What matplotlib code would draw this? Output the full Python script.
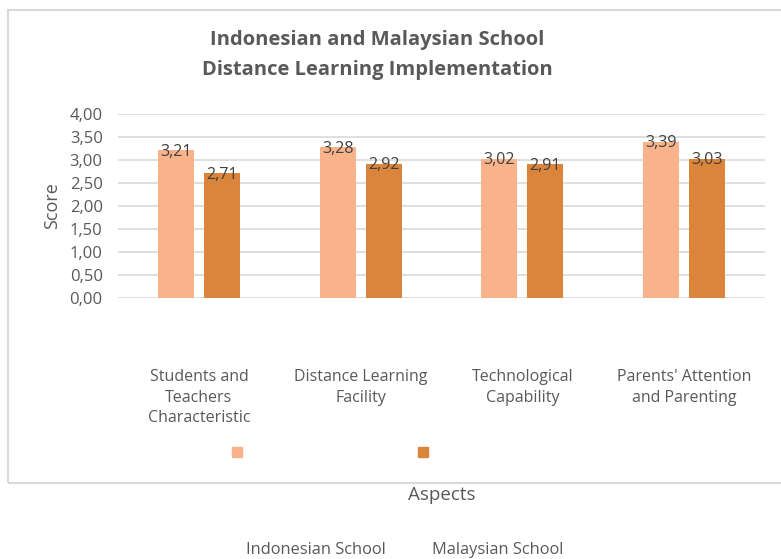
import matplotlib
matplotlib.use("Agg")
import matplotlib.pyplot as plt
import numpy as np
from matplotlib.patches import Rectangle
from matplotlib.lines import Line2D

# Data
categories = [
    "Students and\nTeachers\nCharacteristic",
    "Distance Learning\nFacility",
    "Technological\nCapability",
    "Parents' Attention\nand Parenting",
]
indonesian = [3.21, 3.28, 3.02, 3.39]
malaysian = [2.71, 2.92, 2.91, 3.03]
series_names = ["Indonesian School", "Malaysian School"]
y_ticks = [0.0, 0.5, 1.0, 1.5, 2.0, 2.5, 3.0, 3.5, 4.0]

light = "#F8B38A"
dark = "#DA843C"
text_gray = "#595959"
grid_gray = "#D9D9D9"

plt.rcParams["font.family"] = ["Open Sans", "DejaVu Sans"]

W, H = 781, 559
fig = plt.figure(figsize=(W / 100, H / 100), dpi=100)

def fx(px):
    return px / W

def fy(py):
    return 1 - py / H

# chart frame
fig.add_artist(Rectangle((fx(8), fy(483)), fx(800) - fx(8), fy(10) - fy(483),
                         transform=fig.transFigure, fill=False,
                         edgecolor=grid_gray, linewidth=1.5))

ax = fig.add_axes([fx(118), fy(298), fx(765) - fx(118), fy(114) - fy(298)])

x = np.arange(len(categories))
bw = 0.222
off = 0.142
b1 = ax.bar(x - off, indonesian, bw, color=light, zorder=3)
b2 = ax.bar(x + off, malaysian, bw, color=dark, zorder=3)

for bars, vals in ((b1, indonesian), (b2, malaysian)):
    for rect, v in zip(bars, vals):
        ax.annotate(f"{v:.2f}".replace(".", ","),
                    (rect.get_x() + rect.get_width() / 2, v),
                    xytext=(0, -1), textcoords="offset points",
                    ha="center", va="center", fontsize=11.5,
                    color="#404040", zorder=4)

ax.set_xlim(-0.5, len(categories) - 0.5)
ax.set_ylim(0, 4)
ax.set_yticks(y_ticks)
ax.set_yticklabels([f"{t:.2f}".replace(".", ",") for t in y_ticks])
ax.yaxis.grid(True, color=grid_gray, linewidth=1.2, zorder=0)
ax.set_axisbelow(True)
for s in ax.spines.values():
    s.set_visible(False)
ax.tick_params(axis="y", length=0, pad=11, labelsize=12, labelcolor=text_gray)
ax.tick_params(axis="x", length=0, pad=51, labelsize=11.5, labelcolor=text_gray)
ax.set_xticks(x)
ax.set_xticklabels(categories, linespacing=1.4, va="top")

ax.set_ylabel("Score", fontsize=13, color=text_gray)
ax.yaxis.set_label_coords((61 - 118) / (765 - 118), 0.5)
ax.set_xlabel("Aspects", fontsize=13.5, color=text_gray)
ax.xaxis.set_label_coords(0.5, (298 - 486) / 184)

fig.text(fx(377), fy(40), "Indonesian and Malaysian School", ha="center", va="center",
         fontsize=14.5, fontweight="bold", color=text_gray)
fig.text(fx(377), fy(70), "Distance Learning Implementation", ha="center", va="center",
         fontsize=14.5, fontweight="bold", color=text_gray)

# legend keys and their names
for (mx, col) in ((237, light), (423, dark)):
    fig.add_artist(Line2D([fx(mx)], [fy(452)], transform=fig.transFigure,
                          marker="s", markersize=6.5, color=col, linestyle="none"))
for (tx, name) in ((316, series_names[0]), (498, series_names[1])):
    fig.text(fx(tx), fy(550), name, ha="center", va="center",
             fontsize=11.8, color=text_gray)

fig.savefig("out.png", dpi=100)
